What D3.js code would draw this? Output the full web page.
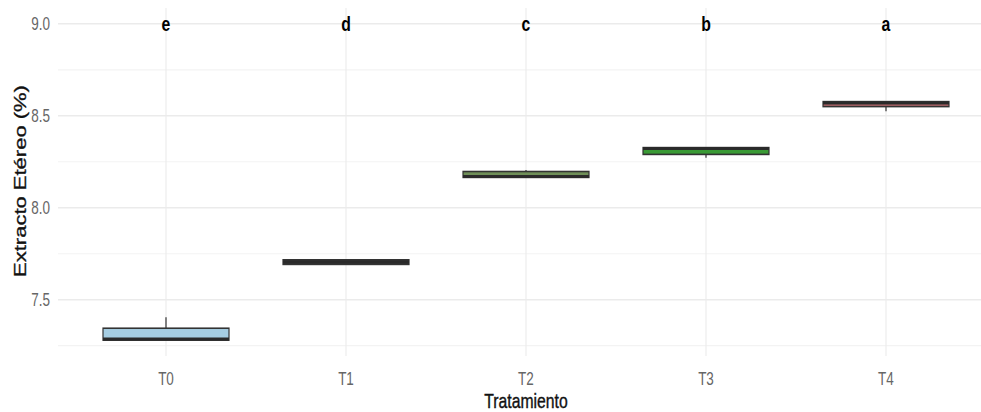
<!DOCTYPE html>
<html>
<head>
<meta charset="utf-8">
<script src="https://cdn.jsdelivr.net/npm/d3@7"></script>
<style>
  body { margin: 0; background: #fff; }
  text { font-family: "Liberation Sans", Arial, sans-serif; }
</style>
</head>
<body>
<div id="chart"></div>
<script>
// data
var tratamientos = ["T0", "T1", "T2", "T3", "T4"];
var minimo  = [7.280, 7.692, 8.165, 8.272, 8.525];
var q1      = [7.280, 7.692, 8.165, 8.290, 8.550];
var mediana = [7.287, 7.705, 8.170, 8.322, 8.570];
var q3      = [7.345, 7.717, 8.197, 8.327, 8.577];
var maximo  = [7.405, 7.717, 8.205, 8.330, 8.577];
var letras  = ["e", "d", "c", "b", "a"];
var letraY  = 9.0;
var yTicks  = [7.5, 8.0, 8.5, 9.0];
var yMinor  = [7.25, 7.75, 8.25, 8.75];
var colores = ["#a6cee3", "#333333", "#6f8f58", "#3a9a35", "#b7676b"];

function init(){
    var w = 981, h = 412;
    var sx = 0.75;   // picture is squeezed horizontally

    var svg = d3.select("#chart")
                .append("svg")
                .attr("width", w)
                .attr("height", h);

    var g = svg.append("g")
               .attr("transform", "scale(" + sx + ",1)");

    var x = d3.scalePoint()
              .domain(tratamientos)
              .range([166 / sx, 886 / sx]);
    var step = x.step();
    var panelL = x("T0") - 0.6 * step, panelR = x("T4") + 0.6 * step;

    var y = d3.scaleLinear()
              .domain([7.194, 9.086])
              .range([356, 8]);

    // minor grid
    g.selectAll("line.minor")
     .data(yMinor).enter()
     .append("line")
     .attr("x1", panelL).attr("x2", panelR)
     .attr("y1", function(d){ return y(d); })
     .attr("y2", function(d){ return y(d); })
     .attr("stroke", "#f3f3f3").attr("stroke-width", 1.2);

    // major grid
    g.selectAll("line.major")
     .data(yTicks).enter()
     .append("line")
     .attr("x1", panelL).attr("x2", panelR)
     .attr("y1", function(d){ return y(d); })
     .attr("y2", function(d){ return y(d); })
     .attr("stroke", "#ebebeb").attr("stroke-width", 1.5);

    g.selectAll("line.vgrid")
     .data(tratamientos).enter()
     .append("line")
     .attr("x1", function(d){ return x(d); })
     .attr("x2", function(d){ return x(d); })
     .attr("y1", y.range()[1]).attr("y2", y.range()[0])
     .attr("stroke", "#ebebeb").attr("stroke-width", 1.5);

    // tick labels
    g.selectAll("text.ytick")
     .data(yTicks).enter()
     .append("text")
     .attr("x", 50 / sx)
     .attr("y", function(d){ return y(d); })
     .attr("dy", "0.35em")
     .attr("text-anchor", "end")
     .attr("fill", "#666")
     .style("font-size", "18px")
     .text(function(d){ return d3.format(".1f")(d); });

    g.selectAll("text.xtick")
     .data(tratamientos).enter()
     .append("text")
     .attr("x", function(d){ return x(d); })
     .attr("y", 385)
     .attr("text-anchor", "middle")
     .attr("fill", "#666")
     .style("font-size", "18px")
     .text(function(d){ return d; });

    // boxes
    var bw = 0.7 * step;
    var boxes = g.selectAll("g.box")
                 .data(tratamientos).enter()
                 .append("g")
                 .attr("class", "box");

    boxes.append("line")
         .attr("x1", function(d){ return x(d); })
         .attr("x2", function(d){ return x(d); })
         .attr("y1", function(d, i){ return y(maximo[i]); })
         .attr("y2", function(d, i){ return y(q3[i]); })
         .attr("stroke", "#333").attr("stroke-width", 1.6);

    boxes.append("line")
         .attr("x1", function(d){ return x(d); })
         .attr("x2", function(d){ return x(d); })
         .attr("y1", function(d, i){ return y(q1[i]); })
         .attr("y2", function(d, i){ return y(minimo[i]); })
         .attr("stroke", "#333").attr("stroke-width", 1.6);

    boxes.append("rect")
         .attr("x", function(d){ return x(d) - bw / 2; })
         .attr("width", bw)
         .attr("y", function(d, i){ return y(q3[i]); })
         .attr("height", function(d, i){ return Math.max(1, y(q1[i]) - y(q3[i])); })
         .attr("fill", function(d, i){ return colores[i]; })
         .attr("stroke", "#333").attr("stroke-width", 1.6);

    boxes.append("line")
         .attr("x1", function(d){ return x(d) - bw / 2; })
         .attr("x2", function(d){ return x(d) + bw / 2; })
         .attr("y1", function(d, i){ return y(mediana[i]); })
         .attr("y2", function(d, i){ return y(mediana[i]); })
         .attr("stroke", "#2a2a2a").attr("stroke-width", 3);

    // significance letters
    g.selectAll("text.letra")
     .data(tratamientos).enter()
     .append("text")
     .attr("x", function(d){ return x(d); })
     .attr("y", y(letraY))
     .attr("dy", "0.35em")
     .attr("text-anchor", "middle")
     .attr("fill", "#000")
     .style("font-size", "21px")
     .style("font-weight", "bold")
     .text(function(d, i){ return letras[i]; });

    // axis titles
    g.append("text")
     .attr("x", x("T2"))
     .attr("y", 408)
     .attr("text-anchor", "middle")
     .attr("fill", "#111")
     .attr("stroke", "#111").attr("stroke-width", 0.4)
     .style("font-size", "21px")
     .text("Tratamiento");

    g.append("text")
     .attr("transform", "translate(" + (26 / sx) + "," + 181 + ") rotate(-90)")
     .attr("text-anchor", "middle")
     .attr("fill", "#111")
     .attr("stroke", "#111").attr("stroke-width", 0.4)
     .style("font-size", "22px")
     .text("Extracto Etéreo (%)");
}

window.onload = init;
</script>
</body>
</html>
